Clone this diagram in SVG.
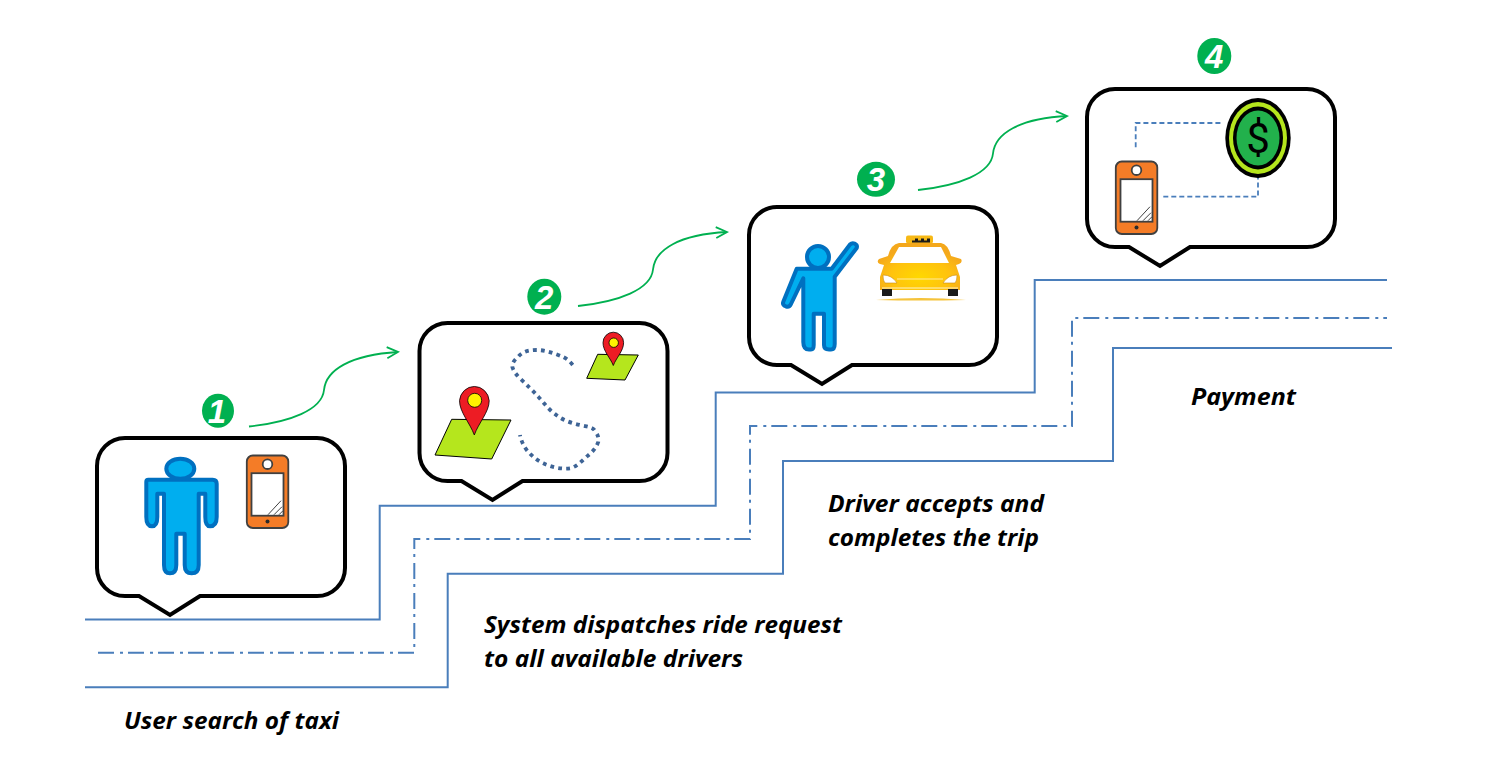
<svg xmlns="http://www.w3.org/2000/svg" xmlns:xlink="http://www.w3.org/1999/xlink" width="1495" height="781" viewBox="0 0 1495 781">
<style>
.step{fill:none;stroke:#4A7EBB;stroke-width:2}
.dd{stroke-dasharray:16 6 3 5}
.flow{fill:none;stroke:#00B050;stroke-width:1.8}
.bub{fill:#fff;stroke:#000;stroke-width:4;stroke-linejoin:miter}
.person{fill:#00AEEF;stroke:#0070C0;stroke-width:4;stroke-linejoin:round}
.label{font-family:"Open Sans","Liberation Sans",sans-serif;font-weight:700;font-style:italic;font-size:23px;fill:#000}
.num{font-family:"Liberation Sans",sans-serif;font-weight:700;font-style:italic;font-size:33px;fill:#fff;text-anchor:middle}
.badge{fill:#00B050}
.para{fill:#B5E61D;stroke:#000;stroke-width:1}
.pin{fill:#ED1C24;stroke:#000;stroke-width:.8}
.pindot{fill:#FFF200;stroke:#000;stroke-width:.8}
.link{fill:none;stroke:#4A7EBB;stroke-width:1.8;stroke-dasharray:5 3}
</style>
<defs>
<marker id="open" markerWidth="16" markerHeight="14" refX="12" refY="7" orient="auto" markerUnits="userSpaceOnUse">
<path d="M1 1.500 L12 7 L1 12.500" fill="none" stroke="#00B050" stroke-width="1.8"/>
</marker>
<path id="bubble" d="M28 0H220A28 28 0 0 1 248 28V130A28 28 0 0 1 220 158H103L73 177L42 158H28A28 28 0 0 1 0 130V28A28 28 0 0 1 28 0Z"/>
<g id="phone">
<rect x="0.800" y="0.800" width="41.500" height="72.500" rx="6" fill="#F47C27" stroke="#404040" stroke-width="1.800"/>
<circle cx="21.500" cy="9.500" r="4.800" fill="#fff" stroke="#404040" stroke-width="1.800"/>
<rect x="5.500" y="18.500" width="32" height="42.500" fill="#fff" stroke="#404040" stroke-width="1.800"/>
<circle cx="21.500" cy="66.800" r="2" fill="#2b2b2b"/>
<path d="M22 60L35 46M28 60L36 52M33 60L37 56" fill="none" stroke="#404040" stroke-width="1"/>
</g>
<radialGradient id="taxiBody" cx=".5" cy=".72" r=".6">
<stop offset="0" stop-color="#FFD800"/><stop offset=".6" stop-color="#FFC20E"/><stop offset="1" stop-color="#F4A81C"/>
</radialGradient>
</defs>
<rect width="1495" height="781" fill="#fff"/>

<g id="connectors">
<path class="step" d="M85 619.500H379.700V505.800H715.700V392.500H1034.700V280H1387"/>
<path class="step dd" d="M98 652.700H414.300V539H750V426H1072V318H1387"/>
<path class="step" d="M85 687.300H447.700V573.700H783V461H1113V348H1392"/>
<path class="flow" marker-end="url(#open)" d="M249 426.500C290 422 322 410 324 390C326 370 350 355 398 352"/>
<path class="flow" marker-end="url(#open)" d="M578 306C619 301.500 651 289.500 653 269.500C655 249.500 679 234.500 727 232"/>
<path class="flow" marker-end="url(#open)" d="M918 190C959 185.500 991 173.500 993 153.500C995 133.500 1019 118.500 1067 116"/>
</g>

<g id="node-1">
<use xlink:href="#bubble" href="#bubble" class="bub" x="97" y="438"/>
<path class="person" d="M146.300 481.700Q146.300 479.700 148.300 479.700H212.700Q216.700 479.700 216.700 483.700V517Q216.700 526.300 210 526.300Q205.300 526.300 205.300 517V493.700H198.700V565Q198.700 573.300 191.700 573.300Q184.700 573.300 184.700 565V533.700H176.300V565Q176.300 573.300 170 573.300Q164 573.300 164 565V493.700H157.300V517Q157.300 526.300 152 526.300Q146.300 526.300 146.300 517Z"/>
<ellipse class="person" cx="180.300" cy="468.700" rx="14" ry="10"/>
<use xlink:href="#phone" href="#phone" x="246" y="454.700"/>
<ellipse class="badge" cx="218" cy="410.700" rx="16" ry="17"/>
<text class="num" x="217" y="422.500">1</text>
</g>

<g id="node-2">
<use xlink:href="#bubble" href="#bubble" class="bub" x="419.500" y="323"/>
<path d="M572.700 365C568 359 564 357 560 355.700C552 352.500 544 350 536.700 350C528 350 522 352 518 357C513 361 511.500 365 512.700 368C514 372 516.700 375 520 378.500C527 385 533 391 538.300 396.700C544 403 549 410 555 414C562 420 571 423 580 425C588 427 593 427 595 431C598 435 599 438 598.300 441.700C596 449 591 453 586.700 456.700C581 462 576 467 570 468.300C561 469.500 551 467 543.300 463.300C536 460 531 455 526.700 450C523 445 521 440 520 435" fill="none" stroke="#3E6496" stroke-width="3.800" stroke-dasharray="3.800 4.200"/>
<path class="para" d="M451.700 419.300L511 420L491.700 459L435 455Z"/>
<path class="pin" d="M474.300 435C470 423 459.500 412 459.500 400.700A14.900 15.500 0 0 1 489.200 400.700C489.200 412 478.500 423 474.300 435Z"/>
<circle class="pindot" cx="474.700" cy="400.300" r="7"/>
<path class="para" d="M597.700 354.300L638.300 355L625 380L586.700 378.300Z"/>
<path class="pin" d="M613.300 365.500C610.500 358 603 351 603 342.700A10.300 10.500 0 0 1 623.600 342.700C623.600 351 616 358 613.300 365.500Z"/>
<circle class="pindot" cx="613.700" cy="342.700" r="4.700"/>
<ellipse class="badge" cx="544.300" cy="296.700" rx="17" ry="18"/>
<text class="num" x="544.300" y="308.500">2</text>
</g>

<g id="node-3">
<use xlink:href="#bubble" href="#bubble" class="bub" x="749" y="207"/>
<path class="person" d="M796.700 268.700L783.300 301.700Q782 305 786 306.500Q789.500 307.500 791 304L803.300 278.300V342Q803.300 349.500 809 349.500H811Q813.700 349.500 813.700 345V313.700H824V345Q824 349.500 829 349.500H831Q834.700 349.500 834.700 344V276.700L856.700 248Q857.700 245 854.500 243.500Q852 242.500 850 244.500L831.700 268.700Z"/>
<circle class="person" cx="818" cy="257" r="11"/>
<g id="taxi">
<rect x="906" y="235.500" width="27" height="8" rx="2" fill="#F7B916"/>
<path d="M912 242.500v-2h3v-2h3v2h3v-2h3v2h3v-2h3v2h0v2z" fill="#1a1a1a"/>
<path d="M899 243H941Q948 244 951 256L961 259Q963 262 959 264L956 265L960 277V290H880V277L884 265L880 264Q876 262 879 259L888 256Q891 244 899 243Z" fill="url(#taxiBody)"/>
<path d="M899 247H941L949 263H890Z" fill="#fff"/>
<path d="M883 275Q892 275 897 283H885Q883 281 883 275Z" fill="#fff" stroke="#C98A10" stroke-width=".6"/>
<path d="M957 275Q948 275 943 283H955Q957 281 957 275Z" fill="#fff" stroke="#C98A10" stroke-width=".6"/>
<path d="M897 279H943" fill="none" stroke="#FFE9A0" stroke-width="1"/>
<path d="M882 288H958" stroke="#FFF3C4" stroke-width="1.200"/>
<rect x="882" y="289" width="10" height="7" fill="#1a1a1a"/>
<rect x="948" y="289" width="10" height="7" fill="#1a1a1a"/>
<path d="M876 300Q920 296 966 300Q920 301 876 300Z" fill="#F5C33B"/>
</g>
<ellipse class="badge" cx="876" cy="179.300" rx="19" ry="17.500"/>
<text class="num" x="876" y="191">3</text>
</g>

<g id="node-4">
<use xlink:href="#bubble" href="#bubble" class="bub" x="1087" y="89"/>
<path class="link" d="M1135.700 147.300V123H1222.700"/>
<path class="link" d="M1163.300 196.700H1258V175"/>
<use xlink:href="#phone" href="#phone" x="1115" y="160.700"/>
<ellipse cx="1258" cy="138" rx="32.700" ry="40" fill="#000"/>
<ellipse cx="1258" cy="138" rx="29" ry="36" fill="#B5E61D"/>
<ellipse cx="1258" cy="138" rx="25" ry="31.500" fill="#000"/>
<ellipse cx="1258" cy="138" rx="21.500" ry="27.500" fill="#22B14C"/>
<text x="1258" y="153" text-anchor="middle" style="font-family:Roboto,'Liberation Sans',sans-serif;font-weight:400;font-size:42px;fill:#000">$</text>
<ellipse class="badge" cx="1214.300" cy="56" rx="17" ry="18"/>
<text class="num" x="1214.300" y="68">4</text>
</g>

<g id="labels">
<text class="label" x="124" y="729" textLength="215" lengthAdjust="spacingAndGlyphs">User search of taxi</text>
<text class="label" x="484" y="633" textLength="358" lengthAdjust="spacingAndGlyphs">System dispatches ride request</text>
<text class="label" x="484" y="667" textLength="259" lengthAdjust="spacingAndGlyphs">to all available drivers</text>
<text class="label" x="828" y="512" textLength="216" lengthAdjust="spacingAndGlyphs">Driver accepts and</text>
<text class="label" x="828" y="546" textLength="211" lengthAdjust="spacingAndGlyphs">completes the trip</text>
<text class="label" x="1191" y="405" textLength="105" lengthAdjust="spacingAndGlyphs">Payment</text>
</g>
</svg>
